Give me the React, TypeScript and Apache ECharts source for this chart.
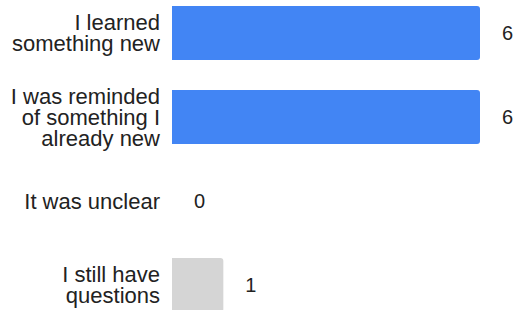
import React, { useEffect, useRef } from "react";
import * as echarts from "echarts";

const categories: string[] = [
  "I learned\nsomething new",
  "I was reminded\nof something I\nalready new",
  "It was unclear",
  "I still have\nquestions",
];
const values: number[] = [6, 6, 0, 1];
const barColors: string[] = ["#4285f4", "#4285f4", "#4285f4", "#d5d5d5"];

export default function App() {
  const ref = useRef<HTMLDivElement>(null);
  useEffect(() => {
    document.body.style.margin = "0";
    if (!ref.current) return;
    const chart = echarts.init(ref.current, null, { renderer: "svg" });
    chart.setOption({
      animation: false,
      grid: { left: 172, right: 37, top: 0, bottom: 0, containLabel: false },
      xAxis: {
        type: "value",
        min: 0,
        max: 6,
        show: false,
      },
      yAxis: {
        type: "category",
        inverse: true,
        data: categories,
        axisLine: { show: false },
        axisTick: { show: false },
        splitLine: { show: false },
        axisLabel: {
          margin: 12,
          fontSize: 22,
          lineHeight: 21,
          color: "#222222",
          fontFamily: "Liberation Sans, Arial, sans-serif",
          align: "right",
        },
      },
      series: [
        {
          type: "bar",
          barWidth: 54,
          data: values.map((v, i) => ({
            value: v,
            itemStyle: { color: barColors[i], borderRadius: [0, 3, 3, 0] },
          })),
          label: {
            show: true,
            position: "right",
            distance: 22,
            fontSize: 20,
            color: "#222222",
            fontFamily: "Liberation Sans, Arial, sans-serif",
          },
        },
      ],
    });
    return () => chart.dispose();
  }, []);
  return (
    <div style={{ width: 517, height: 310, overflow: "hidden", position: "relative" }}>
      <div ref={ref} style={{ position: "absolute", left: 0, top: -9, width: 517, height: 336 }} />
    </div>
  );
}
